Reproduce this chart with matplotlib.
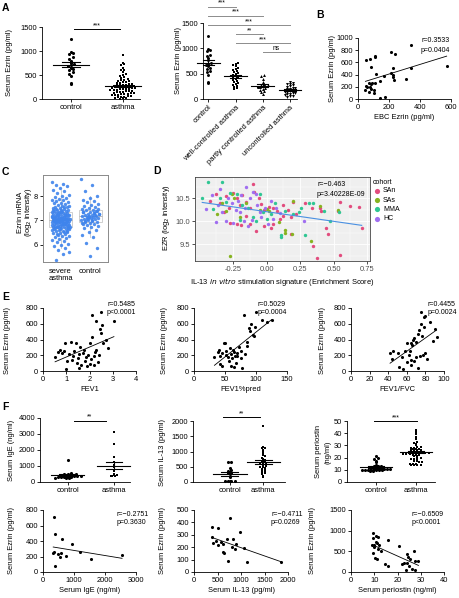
import numpy as np
import matplotlib
matplotlib.use('Agg')
import matplotlib.pyplot as plt

plt.rcParams['font.family'] = ['Liberation Sans', 'DejaVu Sans']
plt.rcParams['font.size'] = 5.4
plt.rcParams['axes.linewidth'] = 0.6
plt.rcParams['xtick.major.width'] = 0.6
plt.rcParams['ytick.major.width'] = 0.6
plt.rcParams['xtick.major.size'] = 2
plt.rcParams['ytick.major.size'] = 2
plt.rcParams['xtick.major.pad'] = 1.5
plt.rcParams['ytick.major.pad'] = 1.5

# ---------------- data ----------------
# A: serum ezrin (pg/ml)
a_control = [1250, 980, 960, 940, 870, 840, 800, 760, 720, 700, 680, 650, 620, 600, 560, 530, 480, 330, 310]
a_asthma = [920, 760, 720, 700, 640, 610, 600, 560, 520, 500, 480, 450, 430, 420, 400, 390, 380, 370,
            360, 350, 340, 330, 320, 310, 300, 300, 290, 280, 270, 260, 250, 250, 240, 230, 220, 210,
            200, 200, 190, 180, 170, 160, 160, 150, 140, 130, 120, 120, 110, 100, 100, 90, 80, 80, 70,
            60, 50, 50, 40, 30, 20, 20, 10, 150, 200, 250, 300, 180, 220, 260]
a_well = [720, 700, 680, 650, 620, 600, 580, 560, 540, 520, 500, 480, 460, 450, 430, 410, 400, 380,
          360, 340, 320, 300, 280, 260, 240, 220, 200]
a_partly = [470, 450, 400, 340, 300, 280, 270, 260, 250, 240, 230, 220, 200, 180, 150, 130, 100]
a_uncontrolled = [330, 310, 300, 290, 270, 250, 240, 220, 210, 200, 190, 180, 170, 160, 150, 140, 130,
                  120, 110, 100, 90, 80, 60, 50, 40]
a_groups = ['control', 'well-controlled asthma', 'partly controlled asthma', 'uncontrolled asthma']
a_brackets = [(0, 1, '***'), (0, 2, '***'), (0, 3, '***'), (1, 2, '**'), (1, 3, '***'), (2, 3, 'ns')]

# B: EBC ezrin vs serum ezrin
b_ebc = [54, 80, 82, 110, 110, 119, 166, 140, 210, 240, 210, 227, 227, 231, 227, 343, 343, 309, 572,
         54, 58, 71, 80, 84, 93, 102, 110, 69, 102, 145, 177, 84, 48]
b_serum = [635, 657, 532, 711, 690, 418, 380, 288, 771, 744, 434, 516, 353, 315, 391, 880, 510, 320, 543,
           212, 190, 255, 201, 168, 266, 147, 266, 120, 92, 22, 38, 245, 147]

# C: ezrin mRNA (log2 intensity)
c_severe = [8.58, 8.52, 8.47, 8.41, 8.33, 8.27, 8.21, 8.12, 8.06, 8.01, 7.97, 7.94, 7.9, 7.86, 7.83,
            7.79, 7.77, 7.73, 7.7, 7.68, 7.64, 7.61, 7.6, 7.57, 7.55, 7.51, 7.5, 7.47, 7.45, 7.43, 7.41,
            7.4, 7.37, 7.36, 7.33, 7.31, 7.3, 7.29, 7.27, 7.26, 7.24, 7.23, 7.21, 7.2, 7.19, 7.17, 7.16,
            7.15, 7.13, 7.12, 7.11, 7.1, 7.08, 7.07, 7.06, 7.05, 7.04, 7.03, 7.02, 7.01, 7.0, 7.0, 6.99,
            6.98, 6.97, 6.96, 6.95, 6.94, 6.92, 6.91, 6.9, 6.89, 6.87, 6.86, 6.85, 6.83, 6.82, 6.8, 6.79,
            6.77, 6.76, 6.74, 6.73, 6.71, 6.7, 6.68, 6.66, 6.64, 6.62, 6.6, 6.58, 6.55, 6.53, 6.5, 6.47,
            6.44, 6.41, 6.38, 6.35, 6.31, 6.27, 6.23, 6.19, 6.14, 6.1, 6.05, 6.0, 5.95, 5.88, 5.8, 5.72,
            5.62, 5.38, 7.02, 6.96, 7.11, 6.88, 7.22, 6.78, 7.34, 6.69, 7.05, 6.93, 7.18, 6.84, 7.46,
            6.57, 7.09, 6.99, 7.26, 6.75, 6.63, 7.39, 7.14, 6.9, 7.03, 6.81, 7.55, 6.45, 7.21, 6.97,
            7.0, 6.86, 7.31, 6.72, 7.12, 6.94, 7.07, 6.65, 7.44, 6.52]
c_control = [8.72, 8.45, 8.2, 8.0, 7.92, 7.85, 7.8, 7.74, 7.69, 7.62, 7.58, 7.55, 7.5, 7.47, 7.44, 7.41,
             7.38, 7.35, 7.33, 7.3, 7.28, 7.26, 7.24, 7.22, 7.2, 7.18, 7.17, 7.15, 7.13, 7.11, 7.09, 7.07,
             7.05, 7.03, 7.0, 6.98, 6.95, 6.93, 6.9, 6.87, 6.84, 6.8, 6.76, 6.72, 6.67, 6.6, 6.52, 6.42,
             6.3, 6.08, 5.85, 5.55, 7.36, 7.21, 7.12, 7.27, 7.02, 6.97, 7.4, 7.16, 6.91, 7.31, 7.06, 7.48]

# D: EZR vs IL-13 signature, by cohort
d_san = [(-0.42, 10.45), (-0.38, 10.6), (-0.35, 10.4), (-0.3, 10.55), (-0.28, 10.3), (-0.25, 10.62),
         (-0.22, 10.5), (-0.2, 10.35), (-0.18, 10.58), (-0.15, 10.42), (-0.12, 10.3), (-0.1, 10.82),
         (-0.09, 10.65), (-0.06, 10.5), (-0.04, 10.38), (-0.02, 10.25), (0.02, 10.32), (0.05, 10.3),
         (0.08, 10.22), (-0.27, 9.97), (-0.22, 9.95), (-0.19, 9.92), (-0.12, 9.95), (-0.08, 9.78),
         (-0.02, 9.9), (0.05, 9.93), (0.1, 10.05), (0.12, 10.12), (0.16, 10.24), (0.18, 10.1),
         (0.2, 10.42), (0.22, 10.17), (0.29, 10.4), (0.34, 10.3), (0.35, 9.45), (0.38, 9.2),
         (0.4, 10.3), (0.41, 10.22), (0.44, 9.85), (0.46, 9.73), (0.53, 10.22), (0.55, 10.42),
         (0.55, 9.27), (0.62, 10.34), (0.69, 10.32), (0.71, 9.85), (0.18, 9.72), (0.03, 9.85),
         (-0.32, 10.2), (-0.15, 10.12), (0.12, 10.35)]
d_sas = [(-0.37, 10.15), (-0.33, 10.4), (-0.26, 10.6), (-0.24, 10.5), (-0.3, 10.22), (-0.27, 9.23),
         (-0.15, 10.4), (-0.05, 10.25), (0.02, 10.22), (0.09, 9.98), (0.14, 9.8), (0.14, 9.75),
         (0.19, 9.72), (0.2, 10.45), (0.33, 9.57), (0.4, 10.34), (0.53, 10.24), (-0.2, 10.1), (0.0, 10.28)]
d_mma = [(-0.44, 10.85), (-0.48, 10.5), (-0.33, 10.87), (-0.4, 10.28), (-0.35, 10.5), (-0.3, 10.42),
         (-0.27, 10.63), (-0.22, 10.6), (-0.2, 10.02), (-0.18, 10.35), (-0.14, 10.3), (-0.1, 10.1),
         (-0.05, 10.6), (-0.03, 10.2), (0.0, 10.05), (0.03, 10.15), (0.06, 10.4), (0.11, 9.65),
         (0.11, 9.7), (0.14, 10.22), (0.24, 10.2), (0.26, 10.3), (0.29, 9.71), (0.32, 10.4),
         (0.43, 10.22), (0.47, 10.0), (0.54, 10.2), (-0.08, 10.0), (0.2, 10.15), (0.35, 10.4)]
d_hc = [(-0.45, 10.28), (-0.41, 10.58), (-0.38, 9.98), (-0.36, 10.35), (-0.33, 10.2), (-0.3, 10.0),
        (-0.29, 10.5), (-0.26, 10.4), (-0.25, 9.97), (-0.23, 10.25), (-0.21, 10.45), (-0.19, 10.58),
        (-0.17, 10.0), (-0.16, 10.3), (-0.15, 10.74), (-0.14, 9.9), (-0.12, 10.5), (-0.1, 10.65),
        (-0.08, 10.6), (-0.07, 10.35), (-0.05, 10.2), (-0.04, 10.1), (-0.01, 10.3), (0.01, 9.95),
        (0.03, 10.45), (0.07, 10.3), (0.1, 10.18), (0.28, 10.0), (-0.35, 10.7), (-0.2, 10.2),
        (-0.11, 10.02), (0.05, 10.05)]
d_cohorts = ['SAn', 'SAs', 'MMA', 'HC']
d_colors = ['#e24c7e', '#86b320', '#2fc693', '#a06ef0']

# E: lung function vs serum ezrin
e_fev1 = [0.52, 0.65, 0.72, 0.8, 0.9, 0.95, 1.0, 1.05, 1.1, 1.2, 1.25, 1.3, 1.35, 1.4, 1.45, 1.5, 1.55,
          1.6, 1.65, 1.7, 1.75, 1.8, 1.85, 1.9, 1.95, 2.0, 2.05, 2.1, 2.1, 2.2, 2.25, 2.3, 2.3, 2.35, 2.4,
          2.45, 2.5, 2.5, 2.55, 2.6, 2.7, 2.8, 3.05, 2.2, 1.55, 2.0]
e_fev1_ez = [175, 240, 270, 225, 255, 350, 30, 130, 210, 370, 145, 190, 260, 360, 100, 170, 220, 300, 80,
             230, 270, 130, 180, 60, 200, 350, 150, 430, 715, 190, 240, 640, 270, 110, 200, 530, 755, 480,
             590, 360, 400, 290, 630, 80, 40, 90]
e_pred = [33, 38, 40, 42, 45, 48, 50, 52, 55, 57, 60, 62, 63, 65, 68, 70, 72, 75, 78, 80, 82, 85, 88, 90,
          92, 95, 96, 100, 110, 118, 125, 65, 45, 58, 75, 66, 70, 52, 98, 42, 85, 60]
e_pred_ez = [175, 240, 270, 195, 230, 350, 360, 200, 180, 130, 220, 160, 270, 240, 100, 190, 300, 250, 40,
             710, 210, 370, 540, 510, 600, 460, 440, 750, 650, 620, 650, 50, 60, 290, 165, 190, 230, 250,
             560, 90, 320, 60]
e_ratio = [42, 45, 44, 50, 52, 55, 56, 58, 60, 60, 62, 63, 64, 65, 66, 67, 68, 68, 70, 70, 72, 73, 74, 75,
           75, 76, 77, 78, 78, 80, 80, 82, 85, 88, 90, 92, 64, 72]
e_ratio_ez = [230, 260, 150, 230, 50, 175, 30, 250, 350, 110, 200, 260, 140, 360, 330, 400, 420, 130, 370,
              180, 470, 520, 190, 750, 600, 440, 200, 680, 560, 700, 230, 150, 620, 380, 530, 430, 80, 40]
e_stats = [('r=0.5485', 'p<0.0001'), ('r=0.5029', 'p=0.0004'), ('r=0.4455', 'p=0.0024')]

# F: serum markers
f_ige_control = [1350, 560, 520, 500, 480, 450, 430, 420, 400, 390, 380, 370, 350, 340, 330, 320, 300,
                 290, 280, 270, 260]
f_ige_asthma = [3100, 2350, 1550, 1250, 1050, 950, 750, 700, 500, 450, 420, 400, 380, 350]
f_il13_control = [640, 640, 450, 400, 360, 330, 300, 280, 200, 180, 30, 20, 20, 20, 20]
f_il13_asthma = [1850, 1150, 1120, 1100, 1050, 1000, 950, 900, 850, 800, 750, 720, 700, 680, 650, 620,
                 600, 580, 550, 520, 500, 480, 450, 420, 400, 380, 350, 320, 300, 250, 200, 150]
f_per_control = [21, 20, 19, 17, 16, 14, 13.5, 13, 13, 12.5, 12, 12, 12, 11.5, 11.5, 11, 11, 11, 10.5,
                 10.5, 10.5, 10, 10, 10, 10, 9.5, 9.5, 9.5, 9, 9]
f_per_asthma = [43, 42, 40, 39, 37, 35, 33, 32, 31, 30, 29, 29, 28, 28, 27, 27, 27, 26, 26, 26, 26, 25, 25,
                25, 25, 25, 24, 24, 24, 24, 24, 23, 23, 23, 23, 22, 22, 22, 21, 21, 20, 20, 19, 19, 18,
                18, 17, 17, 16, 16, 15, 15, 15, 14, 14, 14, 14]
f_ige_x = [356, 378, 626, 949, 1187, 1564, 2550, 345, 330, 485, 593, 540, 755, 378]
f_ige_ez = [707, 494, 430, 358, 264, 166, 220, 260, 247, 226, 239, 196, 204, 81]
f_il13_x = [393, 514, 764, 978, 393, 407, 478, 571, 607, 621, 636, 514, 707, 836, 800, 878, 885, 728,
            1071, 1121, 1850]
f_il13_ez = [360, 352, 433, 320, 285, 231, 250, 245, 223, 164, 151, 215, 266, 266, 204, 186, 226, 91,
             191, 78, 83]
f_per_x = [9.4, 9.4, 10.9, 11.6, 10.0, 11.1, 12.0, 10.6, 9.1, 9.7, 11.4, 9.4, 10.3, 11.1, 15.7, 12.9,
           14.7, 15.9, 20.7, 21.9, 24.3, 24.6, 25.4, 26.9, 27.6, 27.6, 26.1, 23.7, 29.0, 25.1, 24.0, 22.9]
f_per_ez = [951, 814, 870, 854, 653, 693, 653, 733, 645, 612, 548, 467, 330, 306, 774, 516, 193, 153,
            629, 193, 427, 371, 322, 516, 258, 48, 73, 48, 258, 153, 226, 226]
f_stats = [('r=-0.2751', 'p=0.3630'), ('r=-0.4711', 'p=0.0269'), ('r=-0.6509', 'p<0.0001')]

# ---------------- helpers ----------------
W, H = 459, 598
fig = plt.figure(figsize=(W / 100, H / 100), dpi=100)
STAT = 5


def box(l, t, r, b):
    return fig.add_axes([l / W, 1 - b / H, (r - l) / W, (b - t) / H])


def ftext(x, y, s, **kw):
    fig.text(x / W, 1 - y / H, s, **kw)


def prism(ax, xlim, ylim, yticks, xticks=None):
    ax.set_xlim(*xlim)
    ax.set_ylim(*ylim)
    ax.spines['top'].set_visible(False)
    ax.spines['right'].set_visible(False)
    ax.set_yticks(yticks)
    if xticks is not None:
        ax.set_xticks(xticks)
    ax.patch.set_alpha(0)


def swarm(ax, pos, vals, bw, dx, marker='o', s=5):
    v = np.sort(np.asarray(vals, float))
    bins = np.round(v / bw)
    xs = np.empty_like(v)
    for b in np.unique(bins):
        idx = np.where(bins == b)[0]
        k = len(idx)
        xs[idx] = pos + (np.arange(k) - (k - 1) / 2) * dx
    ax.scatter(xs, v, s=s, marker=marker, c='k', lw=0, clip_on=False, zorder=3)


def mean_sem(ax, pos, vals, w):
    v = np.asarray(vals, float)
    m = v.mean()
    se = v.std(ddof=1) / np.sqrt(len(v))
    kw = dict(color='k', lw=0.8, zorder=4, clip_on=False)
    ax.plot([pos - w, pos + w], [m, m], **kw)
    ax.plot([pos, pos], [m - se, m + se], **kw)
    ax.plot([pos - w / 2, pos + w / 2], [m + se] * 2, **kw)
    ax.plot([pos - w / 2, pos + w / 2], [m - se] * 2, **kw)


def sig(ax, x1, x2, y, txt, color='k', fs=5):
    ax.plot([x1, x2], [y, y], color=color, lw=0.7, clip_on=False)
    ax.text((x1 + x2) / 2, y, txt, ha='center', va='bottom', fontsize=fs, clip_on=False)


def scatter_fit(ax, x, y):
    x = np.asarray(x, float)
    y = np.asarray(y, float)
    ax.scatter(x, y, s=5, c='k', lw=0, clip_on=False, zorder=3)
    k, b0 = np.polyfit(x, y, 1)
    xx = np.array([x.min(), x.max()])
    ax.plot(xx, k * xx + b0, color='k', lw=0.6)


def letter(x, y, s):
    ftext(x, y, s, fontsize=7.5, fontweight='bold', va='top', ha='left')


# ---------------- A ----------------
ax = box(42, 27, 140, 99)
prism(ax, (-0.56, 1.33), (0, 1500), [0, 500, 1000, 1500], [0, 1])
ax.set_xticklabels(['control', 'asthma'])
swarm(ax, 0, a_control, 50, 0.06, 'o')
swarm(ax, 1, a_asthma, 50, 0.06, 's', s=4.5)
mean_sem(ax, 0, a_control, 0.34)
mean_sem(ax, 1, a_asthma, 0.34)
sig(ax, 0.05, 0.95, 1450, '***')
ftext(10, 63, 'Serum Ezrin (pg/ml)', rotation=90, ha='center', va='center')

ax = box(203, 23, 297, 99)
prism(ax, (-0.2, 3.26), (0, 1500), [0, 500, 1000, 1500], [0, 1, 2, 3])
ax.set_xticklabels(a_groups, rotation=45, ha='right', rotation_mode='anchor')
a_sets = [a_control, a_well, a_partly, a_uncontrolled]
for i, (vals, mk) in enumerate(zip(a_sets, ['o', 's', '^', 'v'])):
    swarm(ax, i, vals, 50, 0.095, mk, s=4.5)
    mean_sem(ax, i, vals, 0.42)
for j, (g1, g2, t) in enumerate(a_brackets):
    sig(ax, g1, g2, 1822 - j * 180, t, color='#8c8c8c', fs=4.8)
ftext(178, 61, 'Serum Ezrin (pg/ml)', rotation=90, ha='center', va='center')

# ---------------- B ----------------
ax = box(358, 38, 451, 99)
prism(ax, (0, 600), (0, 1000), [0, 200, 400, 600, 800, 1000], [0, 200, 400, 600])
scatter_fit(ax, b_ebc, b_serum)
ax.set_xlabel('EBC Ezrin (pg/ml)', labelpad=2)
ftext(332, 68, 'Serum Ezrin (pg/ml)', rotation=90, ha='center', va='center')
ftext(421, 40, 'r=0.3533', fontsize=STAT, va='center')
ftext(421, 50, 'p=0.0404', fontsize=STAT, va='center')

# ---------------- C ----------------
ax = box(43, 175, 108, 262)
ax.set_xlim(0.4, 2.61)
ax.set_ylim(5.29, 8.87)
for s in ax.spines.values():
    s.set_color('#8a8a8a')
    s.set_linewidth(0.7)
ax.boxplot([c_severe, c_control], positions=[1, 2], widths=0.78, showfliers=False, whis=1.5,
           patch_artist=True,
           boxprops=dict(facecolor='white', edgecolor='#c8c8c8', lw=0.6),
           medianprops=dict(color='#b0b0b0', lw=0.6),
           whiskerprops=dict(color='#c8c8c8', lw=0.6),
           capprops=dict(color='none'))
for pos, vals in [(1, c_severe), (2, c_control)]:
    n = len(vals)
    off = ((np.arange(n) * 0.6180339887) % 1 - 0.5) * 0.62
    ax.scatter(pos + off, vals, s=6, c='#3f84ec', lw=0, alpha=0.9, zorder=3)
ax.set_yticks([6, 7, 8])
ax.set_xticks([1, 2])
ax.set_xticklabels(['severe\nasthma', 'control'], linespacing=1.1)
ax.tick_params(axis='x', length=0, pad=4)
ftext(20, 212, 'Ezrin mRNA', rotation=90, ha='center', va='center')
ftext(28, 212, '(log$_2$ intensity)', rotation=90, ha='center', va='center')

# ---------------- D ----------------
ax = box(195, 177, 370, 261)
ax.set_xlim(-0.534, 0.772)
ax.set_ylim(9.13, 10.97)
ax.set_facecolor('#efefef')
ax.set_xticks([-0.375, -0.125, 0.125, 0.375, 0.625], minor=True)
ax.set_yticks([9.25, 9.75, 10.25, 10.75], minor=True)
ax.set_xticks([-0.25, 0, 0.25, 0.5, 0.75])
ax.set_xticklabels(['-0.25', '0.00', '0.25', '0.50', '0.75'])
ax.set_yticks([9.5, 10.0, 10.5])
ax.set_yticklabels(['9.5', '10.0', '10.5'])
ax.grid(True, which='major', color='white', lw=0.6)
ax.grid(True, which='minor', color='white', lw=0.3)
ax.set_axisbelow(True)
ax.tick_params(which='minor', length=0)
ax.tick_params(colors='#333333', labelcolor='#4d4d4d')
for s in ax.spines.values():
    s.set_color('#444444')
    s.set_linewidth(0.6)
all_x, all_y = [], []
for pts, col in zip([d_san, d_sas, d_mma, d_hc], d_colors):
    px = [p[0] for p in pts]
    py = [p[1] for p in pts]
    all_x += px
    all_y += py
    ax.scatter(px, py, s=6, c=col, lw=0, zorder=3)
k, b0 = np.polyfit(all_x, all_y, 1)
xx = np.array([min(all_x), max(all_x)])
ax.plot(xx, k * xx + b0, color='#4a90e2', lw=0.8, zorder=4)
ax.set_xlabel('IL-13 $\\it{in\\ vitro}$ stimulation signature (Enrichment Score)', labelpad=2)
ftext(167, 218, 'EZR (log$_2$ intensity)', rotation=90, ha='center', va='center')
ftext(317, 185, 'r=\u22120.463', fontsize=STAT, va='center')
ftext(317, 194, 'p=3.40228E-09', fontsize=STAT, va='center')
ftext(373, 183, 'cohort', fontsize=STAT, va='center')
leg = fig.add_axes([0, 0, 1, 1])
leg.set_xlim(0, W)
leg.set_ylim(H, 0)
leg.axis('off')
for i, (name, col) in enumerate(zip(d_cohorts, d_colors)):
    yy = 191 + i * 9.2
    leg.scatter([377], [yy], s=14, c=col, lw=0)
    leg.text(383, yy, name, fontsize=STAT, va='center')

# ---------------- E ----------------
e_sets = [(e_fev1, e_fev1_ez, (0, 4), [0, 1, 2, 3, 4], 'FEV1', 43, 136, 8),
          (e_pred, e_pred_ez, (0, 150), [0, 50, 100, 150], 'FEV1%pred', 194, 287, 164),
          (e_ratio, e_ratio_ez, (0, 100), [0, 20, 40, 60, 80, 100], 'FEV1/FVC', 351, 444, 322)]
stat_x = [107, 258, 428]
for (x, y, xl, xt, lab, l, r, ylx), st, sx in zip(e_sets, e_stats, stat_x):
    ax = box(l, 308, r, 371)
    prism(ax, xl, (0, 800), [0, 200, 400, 600, 800], xt)
    scatter_fit(ax, x, y)
    ax.set_xlabel(lab, labelpad=2)
    ftext(ylx, 340, 'Serum Ezrin (pg/ml)', rotation=90, ha='center', va='center')
    ftext(sx, 304, st[0], fontsize=STAT, va='center')
    ftext(sx, 313, st[1], fontsize=STAT, va='center')

# ---------------- F top ----------------
ax = box(40, 418, 130, 482)
prism(ax, (-0.6, 1.35), (0, 4000), [0, 1000, 2000, 3000, 4000], [0, 1])
ax.set_xticklabels(['control', 'asthma'])
swarm(ax, 0, f_ige_control, 110, 0.07, 'o')
swarm(ax, 1, f_ige_asthma, 110, 0.07, 's', s=4.5)
mean_sem(ax, 0, f_ige_control, 0.36)
mean_sem(ax, 1, f_ige_asthma, 0.36)
sig(ax, 0.13, 0.83, 3830, '**')
ftext(12, 450, 'Serum IgE (ng/ml)', rotation=90, ha='center', va='center')

ax = box(193, 421, 285, 482)
prism(ax, (-1.1, 1.65), (0, 2000), [0, 500, 1000, 1500, 2000], [0, 1])
ax.set_xticklabels(['control', 'asthma'])
swarm(ax, 0, f_il13_control, 55, 0.095, 'o')
swarm(ax, 1, f_il13_asthma, 55, 0.095, 's', s=4.5)
mean_sem(ax, 0, f_il13_control, 0.5)
mean_sem(ax, 1, f_il13_asthma, 0.5)
sig(ax, -0.2, 0.9, 2130, '**')
ftext(163, 452, 'Serum IL-13 (pg/ml)', rotation=90, ha='center', va='center')

ax = box(347, 421, 435, 482)
prism(ax, (-0.73, 1.48), (0, 50), [0, 10, 20, 30, 40, 50], [0, 1])
ax.set_xticklabels(['control', 'asthma'])
swarm(ax, 0, f_per_control, 1.3, 0.08, 'o')
swarm(ax, 1, f_per_asthma, 1.3, 0.08, 's', s=4.5)
mean_sem(ax, 0, f_per_control, 0.4)
mean_sem(ax, 1, f_per_asthma, 0.4)
sig(ax, -0.05, 1.03, 50, '***')
ftext(318, 452, 'Serum periostin', rotation=90, ha='center', va='center')
ftext(328, 452, '(ng/ml)', rotation=90, ha='center', va='center')

# ---------------- F bottom ----------------
f_sets = [(f_ige_x, f_ige_ez, (0, 3000), [0, 1000, 2000, 3000], (0, 800), [0, 200, 400, 600, 800],
           'Serum IgE (ng/ml)', 43, 136, 12),
          (f_il13_x, f_il13_ez, (0, 2000), [0, 500, 1000, 1500, 2000], (0, 500),
           [0, 100, 200, 300, 400, 500], 'Serum IL-13 (pg/ml)', 194, 288, 163),
          (f_per_x, f_per_ez, (0, 40), [0, 10, 20, 30, 40], (0, 1500), [0, 500, 1000, 1500],
           'Serum periostin (ng/ml)', 351, 444, 313)]
stat_x = [117, 271, 412]
for (x, y, xl, xt, yl, yt, lab, l, r, ylx), st, sx in zip(f_sets, f_stats, stat_x):
    ax = box(l, 510, r, 572)
    prism(ax, xl, yl, yt, xt)
    scatter_fit(ax, x, y)
    ax.set_xlabel(lab, labelpad=2)
    ftext(ylx, 541, 'Serum Ezrin (pg/ml)', rotation=90, ha='center', va='center')
    ftext(sx, 514, st[0].replace('-', '\u2212'), fontsize=STAT, va='center')
    ftext(sx, 523, st[1], fontsize=STAT, va='center')

letter(2, 3, 'A')
letter(316, 10, 'B')
letter(2, 167, 'C')
letter(153, 166, 'D')
letter(2, 292, 'E')
letter(2, 402, 'F')

fig.savefig('out.png', dpi=100)
